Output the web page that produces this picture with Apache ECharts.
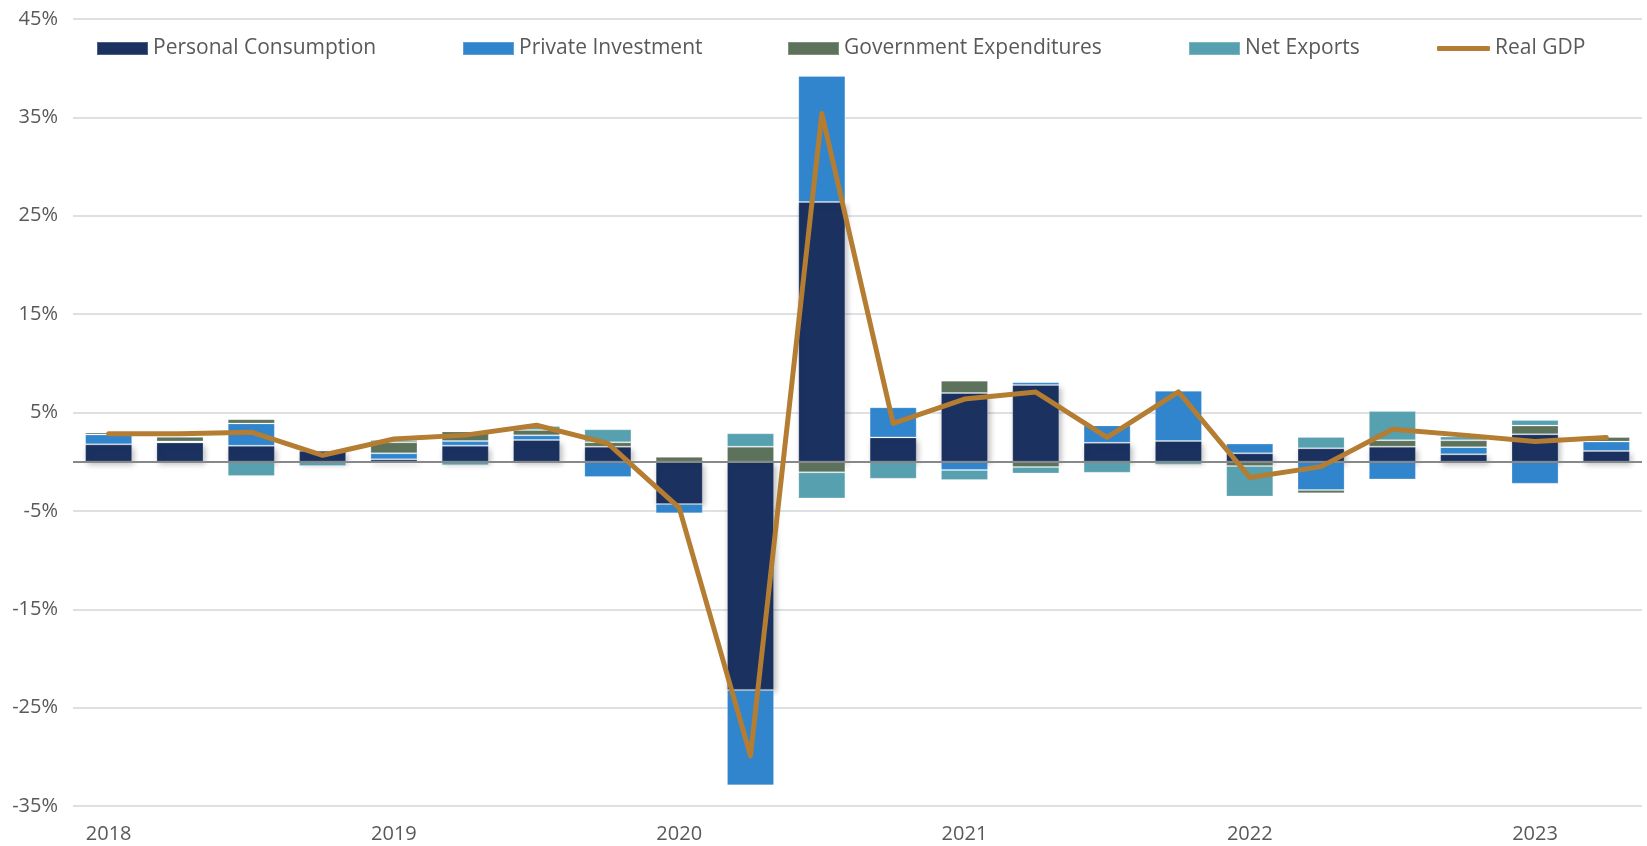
<!DOCTYPE html>
<html>
<head>
<meta charset="utf-8">
<script src="https://cdn.jsdelivr.net/npm/echarts@6/dist/echarts.min.js"></script>
<style>
html,body{margin:0;padding:0;background:#fff;}
#chart{width:1647px;height:846px;}
</style>
</head>
<body>
<div id="chart"></div>
<script>
const quarters = ['2018 Q1','2018 Q2','2018 Q3','2018 Q4','2019 Q1','2019 Q2','2019 Q3','2019 Q4',
  '2020 Q1','2020 Q2','2020 Q3','2020 Q4','2021 Q1','2021 Q2','2021 Q3','2021 Q4',
  '2022 Q1','2022 Q2','2022 Q3','2022 Q4','2023 Q1','2023 Q2'];
const personalConsumption = [1.76, 1.96, 1.62, 1.11, 0.24, 1.63, 2.20, 1.53, -4.30, -23.2, 26.4, 2.47, 6.98, 7.80, 1.93, 2.10, 0.85, 1.36, 1.53, 0.75, 2.79, 1.09];
const privateInvestment   = [1.01, 0.10, 2.27, 0.05, 0.61, 0.47, 0.48, -1.56, -0.95, -9.7, 12.8, 3.06, -0.85, 0.27, 1.76, 5.12, 0.99, -2.89, -1.80, 0.73, -2.24, 0.95];
const governmentExp       = [0.20, 0.47, 0.43, 0.00, 1.12, 0.98, 0.54, 0.44, 0.50, 1.53, -1.08, 0.00, 1.26, -0.54, 0.00, 0.00, -0.44, -0.31, 0.65, 0.69, 0.88, 0.48];
const netExports          = [-0.10, 0.00, -1.45, -0.44, 0.23, -0.37, 0.40, 1.32, 0.00, 1.35, -2.65, -1.73, -1.01, -0.65, -1.12, -0.30, -3.10, 1.16, 2.96, 0.38, 0.58, 0.00];
const realGDP             = [2.84, 2.84, 3.00, 0.65, 2.30, 2.70, 3.70, 1.86, -4.70, -29.9, 35.4, 3.90, 6.37, 7.08, 2.47, 7.10, -1.60, -0.50, 3.30, 2.70, 2.06, 2.45];
const seriesNames = ['Personal Consumption','Private Investment','Government Expenditures','Net Exports','Real GDP'];
const yTicks = {min: -35, max: 45, step: 10};

const colors = ['#1B3260','#3185CC','#5C725A','#56A0AF','#B47D32'];
const fontFam = '"Open Sans", "DejaVu Sans", sans-serif';
const textColor = '#595959';

const chart = echarts.init(document.getElementById('chart'));

const barVals = [personalConsumption, privateInvestment, governmentExp, netExports];
const barSeries = barVals.map((arr, i) => ({
  name: seriesNames[i],
  type: 'bar',
  stack: 'gdp',
  data: arr,
  barCategoryGap: '34%',
  z: 2,
  itemStyle: Object.assign({
    color: colors[i],
    borderColor: 'rgba(255,255,255,0.22)',
    borderWidth: 1
  }, i === 0 ? {shadowColor: 'rgba(0,0,0,0.28)', shadowBlur: 6, shadowOffsetX: 2, shadowOffsetY: 3} : {}),
  emphasis: {disabled: true}
}));

const legendLefts = [96, 462, 787, 1188, 1437];
const legends = seriesNames.map((n, i) => ({
  data: [n],
  left: legendLefts[i],
  top: 38,
  padding: 0,
  itemWidth: i === 4 ? 53 : 51,
  itemHeight: i === 4 ? 5 : 13,
  icon: i === 4 ? 'roundRect' : 'rect',
  selectedMode: false,
  textStyle: {fontFamily: fontFam, fontSize: 21, color: textColor}
}));

chart.setOption({
  animation: false,
  backgroundColor: '#fff',
  color: colors,
  legend: legends,
  grid: {left: 73, right: 5, top: 19, bottom: 40, containLabel: false},
  xAxis: {
    type: 'category',
    data: quarters,
    axisLine: {show: false, onZero: false},
    axisTick: {show: false},
    axisLabel: {
      interval: 0,
      margin: 18,
      fontFamily: fontFam, fontSize: 20, color: textColor,
      formatter: (v, i) => (i % 4 === 0 ? v.slice(0, 4) : '')
    },
    splitLine: {show: false}
  },
  yAxis: {
    type: 'value',
    min: yTicks.min,
    max: yTicks.max,
    interval: yTicks.step,
    axisLine: {show: false},
    axisTick: {show: false},
    axisLabel: {
      margin: 15,
      fontFamily: fontFam, fontSize: 20, color: textColor,
      formatter: '{value}%'
    },
    splitLine: {lineStyle: {color: '#D3D7DA', width: 1.5}}
  },
  series: [
    {
      name: 'zero',
      type: 'line',
      data: [],
      z: 1,
      silent: true,
      markLine: {
        silent: true,
        symbol: 'none',
        label: {show: false},
        lineStyle: {color: '#87888A', width: 2, type: 'solid'},
        data: [{yAxis: 0}]
      }
    },
    ...barSeries,
    {
      name: seriesNames[4],
      type: 'line',
      data: realGDP,
      symbol: 'none',
      z: 5,
      lineStyle: {color: colors[4], width: 5, cap: 'round', join: 'round'},
      itemStyle: {color: colors[4]},
      emphasis: {disabled: true}
    }
  ]
});
</script>
</body>
</html>
